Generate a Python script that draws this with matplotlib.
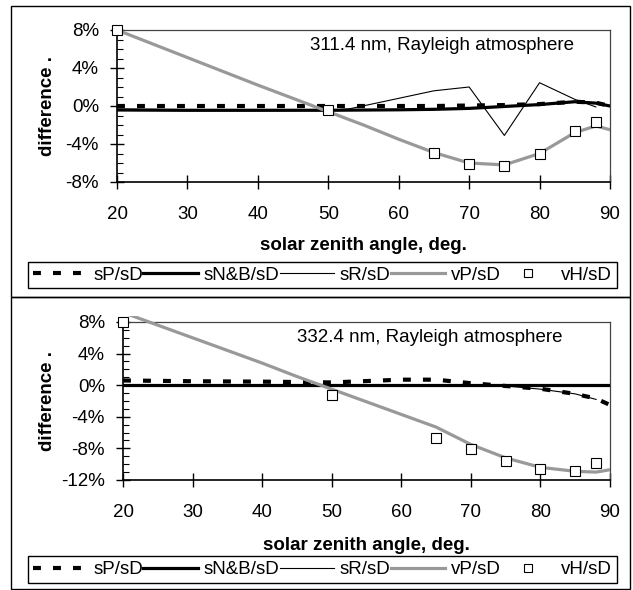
import numpy as np
import matplotlib
matplotlib.use("Agg")
import matplotlib.pyplot as plt
from matplotlib.patches import Rectangle
from matplotlib.lines import Line2D

plt.rcParams['font.family'] = ['Liberation Sans', 'DejaVu Sans']
plt.rcParams['font.size'] = 13.5

# solar zenith angles (deg)
sza_s = [20, 30, 40, 50, 60, 65, 70, 75, 80, 85, 88, 90]
sza_r = [20, 30, 40, 50, 53, 65, 70, 75, 80, 85, 88]
sza_r2 = [20, 30, 40, 50, 60, 65, 70, 75, 80, 85, 88]
sza_v = [20, 25, 30, 35, 40, 45, 50, 55, 60, 65, 70, 75, 80, 85, 88, 90]
sza_h = [20, 50, 65, 70, 75, 80, 85, 88]

# 311.4 nm, differences in %
sP_311 = [0.0, 0.0, 0.0, 0.0, 0.0, 0.0, 0.05, 0.1, 0.2, 0.45, 0.35, 0.0]
sNB_311 = [-0.4, -0.45, -0.45, -0.45, -0.4, -0.35, -0.25, -0.05, 0.15, 0.45, 0.3, 0.0]
sR_311 = [-0.5, -0.5, -0.5, -0.45, -0.3, 1.6, 2.0, -3.1, 2.45, 0.7, -0.1]
vP_311 = [8.0, 6.55, 5.1, 3.65, 2.2, 0.8, -0.6, -2.0, -3.5, -4.9, -6.0, -6.2,
          -5.0, -2.8, -2.1, -2.5]
vH_311 = [8.0, -0.45, -4.9, -6.1, -6.3, -5.0, -2.6, -1.7]

# 332.4 nm
sP_332 = [0.6, 0.5, 0.45, 0.35, 0.7, 0.7, 0.25, -0.1, -0.45, -1.1, -1.7, -2.5]
sNB_332 = [0.0, 0.0, 0.0, 0.0, 0.0, 0.0, 0.0, 0.0, 0.0, 0.0, 0.0, 0.0]
sR_332 = [0.0, 0.0, 0.0, 0.0, 0.0, 0.0, 0.0, -0.1, -0.5, -1.1, -1.8]
vP_332 = [9.2, 7.6, 6.0, 4.4, 2.8, 1.1, -0.5, -2.1, -3.7, -5.3, -7.5, -9.2,
          -10.4, -10.9, -11.0, -10.7]
vH_332 = [8.0, -1.25, -6.7, -8.1, -9.6, -10.6, -10.9, -9.9]

labels = ["sP/sD", "sN&B/sD", "sR/sD", "vP/sD", "vH/sD"]
yticks_311 = [-8, -4, 0, 4, 8]
yticks_332 = [-12, -8, -4, 0, 4, 8]
xticks = [20, 30, 40, 50, 60, 70, 80, 90]

W, H = 633, 590
fig = plt.figure(figsize=(W / 100, H / 100), dpi=100)


def fx(px):
    return px / W


def fy(py):
    return 1 - py / H


# panel frames
for y0, y1 in [(6, 297), (297, 589)]:
    fig.patches.append(Rectangle((fx(11), fy(y1)), fx(630) - fx(11), fy(y0) - fy(y1),
                                 transform=fig.transFigure, fill=False,
                                 edgecolor='black', lw=1.0))


def draw_panel(box, xs, sP, sNB, sR_x, sR, vP, vH, yticks, title, title_pos, leg_y):
    l, t, r, b = box
    ax = fig.add_axes([fx(l), fy(b), fx(r) - fx(l), fy(t) - fy(b)])
    ax.plot(xs, sP, color='black', lw=3, dashes=(1.9, 2.9), solid_capstyle='butt',
            dash_capstyle='butt', zorder=3)
    ax.plot(xs, sNB, color='black', lw=2.3, zorder=3)
    ax.plot(sR_x, sR, color='black', lw=0.8, zorder=3)
    vline, = ax.plot(sza_v, vP, color='#999999', lw=2.3, zorder=4)
    clip = Rectangle((0, 0), 1, 1.04, transform=ax.transAxes, visible=False)
    ax.add_patch(clip)
    vline.set_clip_path(clip)
    ax.plot(sza_h, vH, ls='none', marker='s', ms=7.5, mfc='white', mec='black',
            mew=0.8, zorder=5, clip_on=False)

    ax.set_xlim(20, 90)
    ax.set_ylim(yticks[0], yticks[-1])
    ax.set_xticks(xticks)
    ax.set_yticks(yticks)
    ax.set_yticklabels([f"{v}%" for v in yticks])
    ax.set_yticks(np.arange(yticks[0], yticks[-1] + 1, 1), minor=True)
    ax.tick_params(axis='both', which='major', direction='inout', length=10,
                   width=1, labelsize=13.5)
    ax.tick_params(axis='x', which='major', pad=12)
    ax.tick_params(axis='y', which='major', pad=8)
    ax.tick_params(axis='y', which='minor', direction='in', length=4, width=0.8)
    for s in ['left', 'bottom']:
        ax.spines[s].set_linewidth(1.2)
        ax.spines[s].set_color('black')
    for s in ['top', 'right']:
        ax.spines[s].set_linewidth(0.9)
        ax.spines[s].set_color('#444444')

    ax.set_xlabel("solar zenith angle, deg.", fontweight='bold', fontsize=13.5)
    ax.set_ylabel("difference .", fontweight='bold', fontsize=13.5)
    ax.xaxis.set_label_coords(0.5, -0.36)
    ax.yaxis.set_label_coords((56 - l) / (r - l), 0.5)
    ax.text(title_pos[0], title_pos[1], title, transform=ax.transAxes,
            ha='left', va='center', fontsize=13.5)

    handles = [
        Line2D([], [], color='black', lw=3, dashes=(1.9, 2.9), dash_capstyle='butt'),
        Line2D([], [], color='black', lw=2.3),
        Line2D([], [], color='black', lw=0.8),
        Line2D([], [], color='#999999', lw=2.3),
        Line2D([], [], ls='none', marker='s', ms=6, mfc='white', mec='black', mew=0.8),
    ]
    y0, y1 = leg_y
    fig.legend(handles, labels, loc='center', mode='expand', ncol=5,
               bbox_to_anchor=(fx(19), fy(y1), fx(626) - fx(19), fy(y0) - fy(y1)),
               bbox_transform=fig.transFigure, fancybox=False, framealpha=1,
               edgecolor='black', handlelength=2.9, handletextpad=0.3,
               borderpad=0.25, columnspacing=0.5, fontsize=13.5)
    leg = fig.legends[-1]
    leg.get_frame().set_linewidth(1.0)
    return ax


draw_panel((117, 30, 610, 182), sza_s, sP_311, sNB_311, sza_r, sR_311, vP_311, vH_311,
           yticks_311, "311.4 nm, Rayleigh atmosphere", (0.391, 0.9), (260, 290))
draw_panel((123, 322, 610, 480), sza_s, sP_332, sNB_332, sza_r2, sR_332, vP_332, vH_332,
           yticks_332, "332.4 nm, Rayleigh atmosphere", (0.357, 0.905), (555, 584))

fig.savefig("out.png", dpi=100)
